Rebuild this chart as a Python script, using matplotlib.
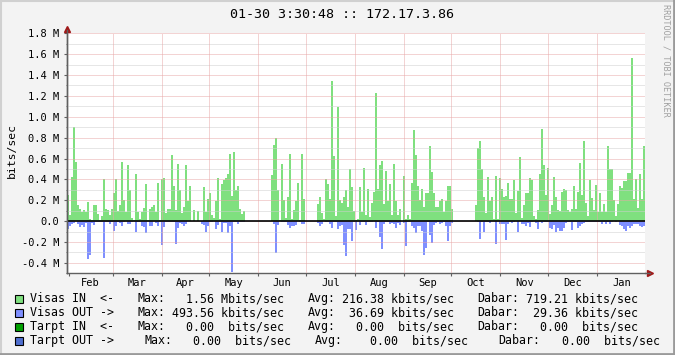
import numpy as np
import matplotlib
matplotlib.use("Agg")
import matplotlib.pyplot as plt
from matplotlib.patches import Rectangle
from matplotlib.lines import Line2D
from matplotlib.ticker import FuncFormatter
from datetime import datetime, timedelta

nan = np.nan

# Visas IN / OUT, Mbits/sec, one value per ~1.26 days
visas_in = [
    0.25, 0.06, 0.42, 0.90, 0.57, 0.15, 0.12, 0.09, 0.11, 0.09, 0.18, 0.02, 0.01, 0.15, 0.15, 0.07, 0.01, 0.05, 0.40,
    0.12, 0.11, 0.06, 0.12, 0.27, 0.40, 0.10, 0.15, 0.57, 0.20, 0.09, 0.54, 0.30, 0.03, 0.01, 0.45, 0.09, 0.02,
    0.09, 0.13, 0.36, 0.01, 0.12, 0.14, 0.15, 0.09, 0.37, 0.01, 0.40, 0.41, 0.08, 0.12, 0.12, 0.63, 0.34, 0.11, 0.55,
    0.30, 0.08, 0.14, 0.54, 0.19, 0.34, 0.0, 0.11, 0.0, 0.10, 0.0, 0.0, 0.33, 0.09, 0.21, 0.27, 0.06, 0.03,
    0.19, 0.41, 0.02, 0.36, 0.39, 0.41, 0.45, 0.64, 0.24, 0.66, 0.30, 0.34, 0.12, 0.07, 0.10,
    nan, nan, nan, nan, nan, nan, nan, nan, nan, nan, nan, nan, nan,
    0.44, 0.73, 0.80, 0.30, 0.01, 0.55, 0.20, 0.03, 0.23, 0.64,
    0.02, 0.11, 0.19, 0.37, 0.01, 0.64, 0.21, nan, nan, nan, nan, nan, nan,
    0.16, 0.23, 0.08, 0.02, 0.40, 0.36, 0.21, 1.34, 0.62, 0.05, 1.09, 0.20, 0.17, 0.23, 0.30, 0.14, 0.50, 0.33,
    0.10, 0.01, 0.02, 0.33, 0.09, 0.51,
    0.06, 0.31, 0.04, 0.17, 0.28, 1.23, 0.31, 0.54, 0.58, 0.16, 0.48, 0.19, 0.36, 0.06, 0.55, 0.19, 0.06, 0.12, 0.0,
    0.43, 0.02, 0.06, 0.02, 0.37, 0.87, 0.63, 0.34, 0.20, 0.31, 0.14, 0.27, 0.27, 0.72, 0.47, 0.27, 0.14, 0.14, 0.19,
    0.21, 0.09, 0.19, 0.34, 0.34, 0.12, nan, nan, nan, nan, nan, nan, nan, nan, nan, nan, nan,
    0.15, 0.70, 0.77, 0.50, 0.23, 0.08, 0.42, 0.19, 0.23, 0.02, 0.43, 0.02, 0.41, 0.31, 0.23, 0.24, 0.37, 0.21, 0.21, 0.39,
    0.08, 0.29, 0.61, 0.03, 0.15, 0.27, 0.27, 0.41, 0.39, 0.05, 0.02, 0.11, 0.45, 0.88, 0.54, 0.25, 0.51, 0.07, 0.15,
    0.42, 0.23, 0.11, 0.10, 0.28, 0.31, 0.30, 0.11, 0.09, 0.12, 0.34, 0.12, 0.28, 0.56, 0.25, 0.77, 0.17, 0.05, 0.39,
    0.22, 0.11, 0.35, 0.09, 0.27, 0.09, 0.16, 0.09, 0.72, 0.50, 0.50, 0.20, 0.05, 0.16, 0.34, 0.32, 0.38, 0.38, 0.46,
    0.46, 1.56, 0.21, 0.40, 0.13, 0.45, 0.21, 0.72,
]
visas_out = [
    0.08, 0.05, 0.03, 0.02, 0.00, 0.025, 0.06, 0.035, 0.06, 0.02, 0.36, 0.32, 0.02, 0.04, 0.005, 0.005, 0.005, 0.005,
    0.35, 0.013, 0.013, 0.025, 0.006, 0.09, 0.05, 0.013, 0.02, 0.05, 0.013, 0.003, 0.025, 0.025, 0.006, 0.003, 0.10,
    0.013, 0.005,
    0.05, 0.06, 0.11, 0.003, 0.045, 0.05, 0.003, 0.02, 0.05, 0.013, 0.23, 0.06, 0.013, 0.013, 0.013, 0.013, 0.013,
    0.22, 0.07, 0.02, 0.025, 0.05, 0.025, 0.003, 0.0, 0.0, 0.0, 0.003, 0.0, 0.0, 0.025, 0.038, 0.10, 0.045, 0.013,
    0.005, 0.0,
    0.08, 0.04, 0.013, 0.10, 0.02, 0.02, 0.11, 0.045, 0.49, 0.013, 0.013, 0.025, 0.013, 0.006, 0.005,
    nan, nan, nan, nan, nan, nan, nan, nan, nan, nan, nan, nan, nan,
    0.003, 0.025, 0.31, 0.038, 0.003, 0.013, 0.013, 0.006, 0.038, 0.064,
    0.05, 0.05, 0.035, 0.003, 0.013, 0.025, 0.03, nan, nan, nan, nan, nan, nan,
    0.02, 0.05, 0.03, 0.003, 0.013, 0.013, 0.025, 0.07, 0.013, 0.006, 0.08, 0.05, 0.035, 0.23, 0.33, 0.076, 0.076,
    0.19, 0.006, 0.083, 0.003, 0.038, 0.013, 0.013,
    0.038, 0.013, 0.013, 0.013, 0.003, 0.07, 0.013, 0.15, 0.27, 0.025, 0.013, 0.013, 0.025, 0.02, 0.025, 0.064, 0.02,
    0.035, 0.0, 0.02, 0.24, 0.013, 0.013, 0.045, 0.07, 0.11, 0.05, 0.045, 0.095, 0.32, 0.26, 0.013, 0.13, 0.21, 0.038,
    0.02, 0.013, 0.025,
    0.02, 0.013, 0.05, 0.19, 0.05, 0.02, nan, nan, nan, nan, nan, nan, nan, nan, nan, nan, nan,
    0.003, 0.013, 0.17, 0.013, 0.10, 0.013, 0.013, 0.02, 0.003, 0.003, 0.22, 0.003, 0.025, 0.03, 0.03, 0.18, 0.03,
    0.013, 0.02, 0.013,
    0.003, 0.10, 0.003, 0.03, 0.025, 0.05, 0.02, 0.057, 0.013, 0.003, 0.02, 0.076, 0.013, 0.02, 0.013, 0.006, 0.013,
    0.064, 0.076, 0.038, 0.10, 0.064, 0.095, 0.095, 0.07, 0.02, 0.013, 0.013, 0.083, 0.013, 0.013, 0.07, 0.045, 0.025,
    0.02, 0.013, 0.013, 0.013,
    0.013, 0.013, 0.013, 0.013, 0.013, 0.025, 0.013, 0.025, 0.013, 0.025, 0.013, 0.003, 0.013, 0.003, 0.038, 0.05,
    0.076, 0.095, 0.045, 0.07, 0.05, 0.03, 0.03, 0.03, 0.05, 0.057, 0.045,
]

month_names = ['Feb', 'Mar', 'Apr', 'May', 'Jun', 'Jul', 'Aug', 'Sep', 'Oct', 'Nov', 'Dec', 'Jan']
titulo = "01-30 3:30:48 :: 172.17.3.86"

# legenda: etiqueta, color, (max, avg, dabar) como texto
series_names = ["Visas IN  <-", "Visas OUT ->", "Tarpt IN  <-", "Tarpt OUT ->"]
series_colors = ['#7FE07F', '#7F8FFF', '#00A000', '#4F6FCF']
max_txt = ["  1.56 Mbits/sec", "493.56 kbits/sec", "  0.00  bits/sec", "  0.00  bits/sec"]
avg_txt = ["216.38 kbits/sec", " 36.69 kbits/sec", "  0.00  bits/sec", "  0.00  bits/sec"]
dabar_txt = ["719.21 kbits/sec", " 29.36 kbits/sec", "  0.00  bits/sec", "  0.00  bits/sec"]

W, H = 675, 355
mono = 'DejaVu Sans Mono'


def fx(px):
    return px / W


def fy(py):
    return 1 - py / H


fig = plt.figure(figsize=(W / 100, H / 100), dpi=100, facecolor='#F3F3F3')
ax = fig.add_axes([fx(67), fy(273.3), 578 / W, 240 / H])
ax.set_facecolor('white')

# eje temporal
start = datetime(2007, 1, 31, 0, 0)
span = 365.4
n = len(visas_in)
step = span / n
x = [start + timedelta(days=(i + 0.5) * step) for i in range(n)]
end = start + timedelta(days=span)

v_in = np.array(visas_in) * 1e6
v_out = np.array(visas_out) * 1e6
ax.bar(x, v_in, width=step, color=series_colors[0], linewidth=0, zorder=2)
ax.bar(x, -v_out, width=step, color=series_colors[1], linewidth=0, zorder=2)

ax.set_xlim(start, end)
ax.set_ylim(-0.5e6, 1.8e6)

# rejilla
major_y = np.arange(-0.4e6, 1.81e6, 0.2e6)
minor_y = np.arange(-0.5e6, 1.8e6, 0.2e6) + 0.0
for yv in minor_y:
    ax.axhline(yv, color='#CFCFCF', lw=0.72, ls=(0, (1, 1)), zorder=3)
for yv in major_y:
    ax.axhline(yv, color='#E8A8A8', lw=0.72, ls=(0, (1, 1)), zorder=3)

month_starts = []
mids = []
for k in range(13):
    y0 = 2007 + (1 + k) // 12
    m0 = (1 + k) % 12 + 1
    d = datetime(y0, m0, 1)
    y1 = 2007 + (2 + k) // 12
    m1 = (2 + k) % 12 + 1
    d1 = datetime(y1, m1, 1)
    if start < d < end:
        month_starts.append(d)
        if d > start + timedelta(days=3):
            ax.axvline(d, color='#E8A8A8', lw=0.72, ls=(0, (1, 1)), zorder=3)
    if k < 12:
        mids.append(d + (d1 - d) / 2)

ax.axhline(0, color='black', lw=1.2, zorder=4)

ax.set_xticks(month_starts)
ax.set_xticklabels([])
ax.set_xticks(mids, minor=True)
ax.set_xticklabels(month_names, minor=True, fontfamily=mono, fontsize=7.5)
ax.tick_params(axis='x', which='major', length=2, color='#606060')
ax.tick_params(axis='x', which='minor', length=0, pad=3.6)

ax.set_yticks(major_y)
ax.yaxis.set_major_formatter(FuncFormatter(lambda v, p: "0.0" if abs(v) < 1 else "%.1f M" % (v / 1e6)))
ax.set_yticks(minor_y, minor=True)
ax.tick_params(axis='y', which='major', length=2, pad=3.6, color='#606060', labelsize=7.5)
ax.tick_params(axis='y', which='minor', length=1, color='#606060')
for lbl in ax.get_yticklabels():
    lbl.set_fontfamily(mono)

for s in ['top', 'right']:
    ax.spines[s].set_visible(False)
for s in ['left', 'bottom']:
    ax.spines[s].set_color('#606060')
    ax.spines[s].set_linewidth(1)

# flechas de los ejes
fig.add_artist(Line2D([fx(67), fx(67)], [fy(273.3), fy(30)], color='#606060', lw=1))
fig.add_artist(Line2D([fx(645), fx(650)], [fy(273.3), fy(273.3)], color='#606060', lw=1))
ax.plot([0], [1 + 4.5 / 240], marker='^', ms=4, color='#A01818', transform=ax.transAxes, clip_on=False, zorder=6)
ax.plot([1 + 5 / 578], [0], marker='>', ms=4, color='#A01818', transform=ax.transAxes, clip_on=False, zorder=6)

# textos
fig.text(fx(341.5), fy(14), titulo, ha='center', va='center', fontfamily=mono, fontsize=9.6)
fig.text(fx(12), fy(150), "bits/sec", rotation=90, ha='center', va='center', fontfamily=mono, fontsize=8.2)
fig.text(fx(666), fy(4), "RRDTOOL / TOBI OETIKER", rotation=-90, ha='center', va='top',
         fontfamily=mono, fontsize=6.1, color='#A0A0A0')

row_y = [298.5, 312.5, 326.5, 340.5]
for i in range(4):
    yy = fy(row_y[i])
    sh = 7 if i == 3 else 0
    fig.add_artist(Rectangle((fx(15), fy(row_y[i] + 4)), 8 / W, 8 / H, facecolor=series_colors[i],
                             edgecolor='black', lw=0.8))
    fig.text(fx(30.5), yy, series_names[i], va='center', fontfamily=mono, fontsize=8.4)
    fig.text(fx(137.5 + sh), yy, "Max:", va='center', fontfamily=mono, fontsize=8.4)
    fig.text(fx(172.5 + sh), yy, max_txt[i], va='center', fontfamily=mono, fontsize=8.4)
    fig.text(fx(308 + sh), yy, "Avg:", va='center', fontfamily=mono, fontsize=8.4)
    fig.text(fx(342.5 + 2 * sh), yy, avg_txt[i], va='center', fontfamily=mono, fontsize=8.4)
    fig.text(fx(477 + 3 * sh), yy, "Dabar:", va='center', fontfamily=mono, fontsize=8.4)
    fig.text(fx(526.5 + 3 * sh), yy, dabar_txt[i], va='center', fontfamily=mono, fontsize=8.4)

# marco 3D
fig.add_artist(Line2D([0, 1], [fy(0.5), fy(0.5)], color='#D0D0D0', lw=1.5))
fig.add_artist(Line2D([fx(0.5), fx(0.5)], [0, 1], color='#D0D0D0', lw=1.5))
fig.add_artist(Line2D([fx(674), fx(674)], [0, 1], color='#9A9A9A', lw=2))
fig.add_artist(Line2D([0, 1], [fy(354), fy(354)], color='#9A9A9A', lw=2))

fig.savefig("out.png", dpi=100, facecolor=fig.get_facecolor())
